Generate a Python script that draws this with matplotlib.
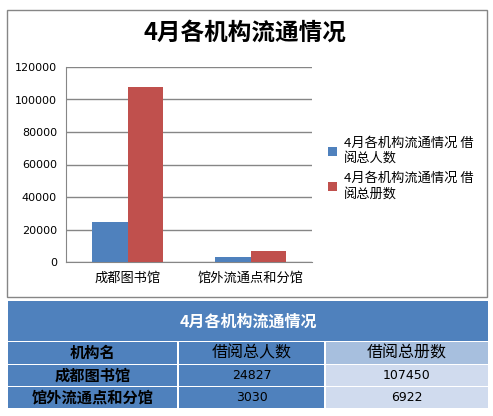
import matplotlib
matplotlib.use("Agg")
import matplotlib.pyplot as plt
from matplotlib.patches import Rectangle
import numpy as np

plt.rcParams['font.family'] = ['Noto Sans CJK SC', 'DejaVu Sans']

# ---- data ----
title = '4月各机构流通情况'
categories = ['成都图书馆', '馆外流通点和分馆']
readers = [24827, 3030]
volumes = [107450, 6922]
series_names = ['4月各机构流通情况 借阅总人数', '4月各机构流通情况 借阅总册数']
table_headers = ['机构名', '借阅总人数', '借阅总册数']
y_ticks = [0, 20000, 40000, 60000, 80000, 100000, 120000]

BLUE = '#4F81BD'
RED = '#C0504D'
LIGHT_HDR = '#A7BFDE'
LIGHT_CELL = '#D0DBEE'
GRID = '#868686'

W, H = 493, 416
fig = plt.figure(figsize=(W / 100, H / 100), dpi=100)

def fx(px):
    return px / W

def fy(py):
    return 1 - py / H

# overlay axes in pixel coordinates (for border and table)
ov = fig.add_axes([0, 0, 1, 1], zorder=0)
ov.set_xlim(0, W)
ov.set_ylim(H, 0)
ov.axis('off')
ov.patch.set_alpha(0)

# chart border
ov.add_patch(Rectangle((6.5, 9.5), 480, 287.5, fill=False, edgecolor=GRID, lw=1))

# ---- chart ----
ax_l, ax_r, ax_t, ax_b = 66, 312, 67, 262
ax = fig.add_axes([fx(ax_l), fy(ax_b), fx(ax_r - ax_l), (ax_b - ax_t) / H], zorder=1)
x = np.arange(len(categories))
bw = 0.289
b1 = ax.bar(x - bw / 2, readers, bw, color=BLUE, zorder=3, label=series_names[0])
b2 = ax.bar(x + bw / 2, volumes, bw, color=RED, zorder=3, label=series_names[1])
ax.set_xlim(-0.5, len(categories) - 0.5)
ax.set_ylim(0, 120000)
ax.set_yticks(y_ticks)
ax.set_yticklabels([str(v) for v in y_ticks], family='DejaVu Sans', fontsize=8)
ax.set_xticks(x)
ax.set_xticklabels(categories, fontsize=9.5)
ax.tick_params(axis='y', length=0, pad=6.5)
ax.tick_params(axis='x', length=0, pad=7)
ax.yaxis.grid(True, color=GRID, lw=1, zorder=0)
ax.set_axisbelow(True)
for s in ['top', 'right']:
    ax.spines[s].set_visible(False)
ax.spines['left'].set_color(GRID)
ax.spines['bottom'].set_color(GRID)

fig.text(fx(245), fy(33), title, ha='center', va='center', fontsize=17, fontweight='bold')

labels = [n[:11] + '\n' + n[11:] for n in series_names]
fig.legend([b1, b2], labels, loc='upper left', bbox_to_anchor=(fx(328), fy(137)),
           frameon=False, fontsize=9.5, handlelength=0.7, handleheight=0.7,
           handletextpad=0.5, labelspacing=0.55, borderpad=0, borderaxespad=0)

# ---- table ----
ov.add_patch(Rectangle((8, 301), 480, 40, color=BLUE, lw=0))
ov.text(248, 322, title, ha='center', va='center', color='white', fontsize=11.5, fontweight='bold')

cols = [(8, 177), (179, 324), (326, 488)]
rows = [(342, 364), (365, 386), (387, 408)]
rows_data = [table_headers] + [[c, str(r), str(v)] for c, r, v in zip(categories, readers, volumes)]
for ri, (y0, y1) in enumerate(rows):
    for ci, (x0, x1) in enumerate(cols):
        if ci < 2:
            col = BLUE
        else:
            col = LIGHT_HDR if ri == 0 else LIGHT_CELL
        ov.add_patch(Rectangle((x0, y0), x1 - x0, y1 - y0, color=col, lw=0))
        txt = rows_data[ri][ci]
        cx, cy = (x0 + x1) / 2, (y0 + y1) / 2
        if ci == 0:
            ov.text(cx, cy, txt, ha='center', va='center', fontsize=11, fontweight='bold', color='black')
        elif ri == 0:
            ov.text(cx, cy, txt, ha='center', va='center', fontsize=11.5, color='black')
        else:
            ov.text(cx, cy, txt, ha='center', va='center', fontsize=9, family='DejaVu Sans', color='black')

fig.savefig('out.png', dpi=100, facecolor='white')
